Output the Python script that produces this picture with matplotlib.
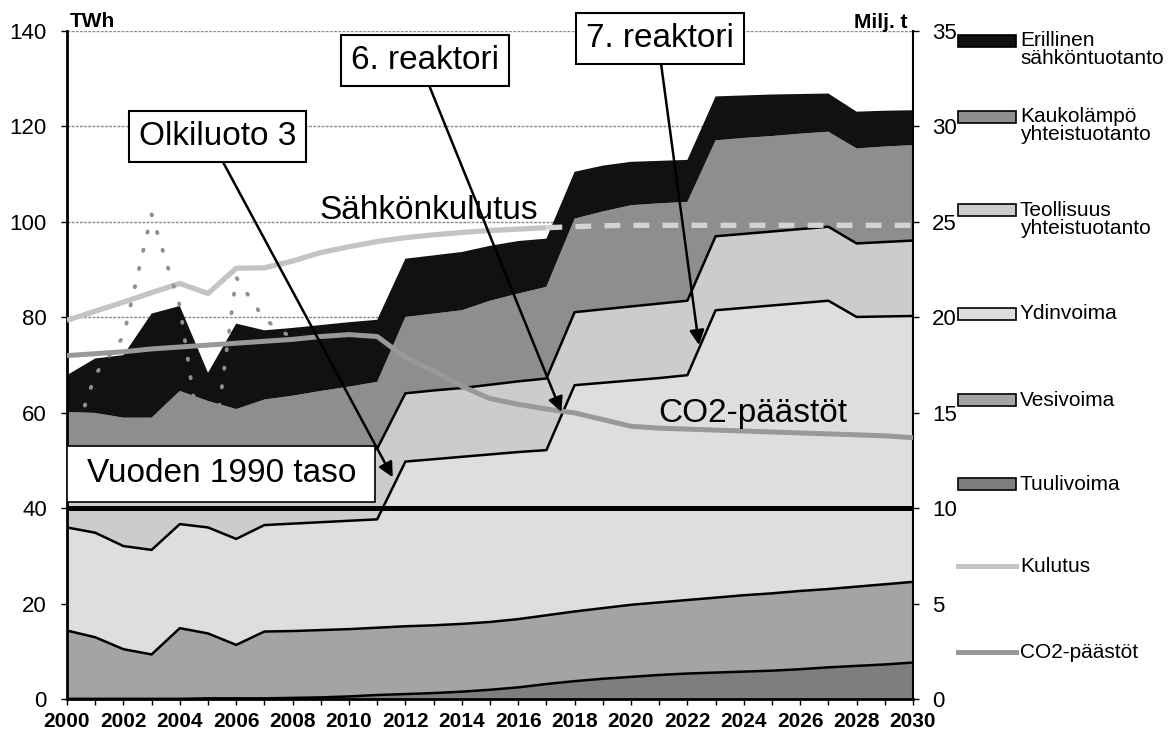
import numpy as np
import matplotlib
matplotlib.use('Agg')
import matplotlib.pyplot as plt
from matplotlib.patches import Rectangle
from matplotlib.lines import Line2D

plt.rcParams['font.family'] = ['Liberation Sans', 'DejaVu Sans']

years = list(range(2000, 2031))

# Electricity production by source, TWh (stacked bottom to top)
tuulivoima = [0.1, 0.1, 0.1, 0.1, 0.1, 0.2, 0.2, 0.2, 0.3, 0.4, 0.6, 0.9, 1.1, 1.3, 1.6, 2.0,
              2.5, 3.2, 3.8, 4.3, 4.7, 5.1, 5.4, 5.6, 5.8, 6.0, 6.3, 6.7, 7.0, 7.3, 7.7]
vesivoima = [14.3, 12.9, 10.4, 9.3, 14.8, 13.6, 11.2, 14.0, 14.0, 14.1, 14.1, 14.1, 14.2, 14.2, 14.2, 14.2,
             14.3, 14.4, 14.6, 14.8, 15.1, 15.2, 15.4, 15.7, 16.0, 16.2, 16.4, 16.4, 16.6, 16.8, 16.9]
ydinvoima = [21.6, 21.9, 21.6, 21.9, 21.8, 22.2, 22.2, 22.3, 22.5, 22.6, 22.7, 22.7, 34.5, 34.8, 35.0, 35.1,
             35.0, 34.6, 47.4, 47.2, 47.0, 47.0, 47.1, 60.2, 60.2, 60.3, 60.3, 60.4, 56.5, 56.1, 55.7]
teollisuus = [13.0, 12.5, 12.8, 13.0, 13.5, 11.5, 13.5, 13.5, 13.8, 14.0, 14.2, 14.8, 14.3, 14.4, 14.4, 14.6,
              14.8, 15.0, 15.3, 15.4, 15.5, 15.6, 15.6, 15.5, 15.5, 15.5, 15.5, 15.5, 15.4, 15.6, 15.8]
kaukolampo = [11.2, 12.6, 14.1, 14.7, 14.4, 15.0, 13.7, 12.8, 13.0, 13.5, 13.9, 14.0, 16.0, 16.1, 16.3, 17.6,
              18.4, 19.2, 19.6, 20.5, 21.2, 21.0, 20.7, 20.1, 20.1, 20.0, 20.0, 19.9, 19.9, 20.0, 20.0]
erillinen = [7.7, 11.4, 13.1, 21.8, 17.8, 5.9, 17.9, 14.5, 14.2, 13.8, 13.5, 13.0, 12.2, 12.2, 12.2, 11.5,
             11.0, 10.1, 9.8, 9.6, 9.1, 8.9, 8.8, 9.2, 8.9, 8.7, 8.3, 8.0, 7.7, 7.5, 7.3]

# Consumption, TWh (solid until 2017, dashed after)
kulutus = [79.4, 81.3, 83.2, 85.2, 87.1, 85.0, 90.3, 90.4, 91.8, 93.6, 94.8, 95.9, 96.7, 97.3, 97.8, 98.2,
           98.5, 98.8, 99.0, 99.2, 99.3, 99.3, 99.3, 99.3, 99.3, 99.3, 99.3, 99.3, 99.3, 99.3, 99.3]

# CO2 emissions, Mt (right axis)
co2 = [18.0, 18.1, 18.2, 18.35, 18.45, 18.55, 18.65, 18.75, 18.85, 19.0, 19.1, 19.0, 17.9, 17.2, 16.4, 15.75,
       15.45, 15.2, 15.0, 14.65, 14.3, 14.2, 14.15, 14.1, 14.05, 14.0, 13.95, 13.9, 13.85, 13.8, 13.7]
co2_toteutunut = [12.6, 17.0, 19.0, 25.4, 20.6, 10.8, 22.1, 19.9, 18.9]
taso_1990 = 10.0

series_names = ['Tuulivoima', 'Vesivoima', 'Ydinvoima', 'Teollisuus\nyhteistuotanto',
                'Kaukolämpö\nyhteistuotanto', 'Erillinen\nsähköntuotanto']
series_colors = ['#7e7e7e', '#a4a4a4', '#dedede', '#cccccc', '#8e8e8e', '#111111']

W, H = 1170, 732
fig = plt.figure(figsize=(W / 100, H / 100), dpi=100)
ax = fig.add_axes([67 / W, 1 - 699.3 / H, (913 - 67) / W, (699.3 - 31) / H])

# stacked areas
ax.stackplot(years, tuulivoima, vesivoima, ydinvoima, teollisuus, kaukolampo, erillinen,
             colors=series_colors, linewidth=0, zorder=2)
tops = np.cumsum([tuulivoima, vesivoima, ydinvoima, teollisuus], axis=0)
for top in tops:
    ax.plot(years, top, color='black', lw=1.8, zorder=3)

# consumption line
ax.plot(years[:18], kulutus[:18], color='#c4c4c4', lw=3.8, zorder=4, solid_capstyle='butt')
ax.plot(years[17:], kulutus[17:], color='#d4d4d4', lw=3.8, ls=(0, (3, 2.5)), zorder=4)

ax.set_xlim(2000, 2030)
ax.set_ylim(0, 140)
ax.set_yticks(range(0, 141, 20))
ax.set_xticks(years)
ax.set_xticklabels([str(y) if y % 2 == 0 else '' for y in years],
                   family=['Liberation Sans Narrow', 'Liberation Sans'], fontweight='bold')
ax.set_axisbelow(True)
ax.grid(axis='y', color='#8a8a8a', lw=1, ls=(0, (2, 1)))
ax.tick_params(axis='y', labelsize=16, length=4.5, width=1, pad=10)
ax.tick_params(axis='x', labelsize=15, length=4, width=1, pad=5)
for s in ['top', 'right']:
    ax.spines[s].set_visible(False)
ax.spines['left'].set_linewidth(2)
ax.spines['bottom'].set_linewidth(2)

# right axis: CO2
ax2 = ax.twinx()
ax2.set_ylim(0, 35)
ax2.set_yticks(range(0, 36, 5))
ax2.tick_params(axis='y', labelsize=16, length=4.5, width=1, pad=9)
for s in ['top', 'left', 'bottom']:
    ax2.spines[s].set_visible(False)
ax2.spines['right'].set_linewidth(1.5)

ax2.axhline(taso_1990, color='black', lw=3.6, zorder=3)
ax2.plot(years, co2, color='#999999', lw=3.6, zorder=4, solid_capstyle='butt')
ax2.plot(years[:len(co2_toteutunut)], co2_toteutunut, color='#909090', lw=2.8,
         ls=(0, (0.3, 4.5)), dash_capstyle='round', zorder=4)

box = dict(boxstyle='square,pad=0.3', fc='white', ec='black', lw=1.5)
arrow = dict(arrowstyle='-|>', color='black', lw=1.8, relpos=(0.5, 0), shrinkA=0, shrinkB=0,
             mutation_scale=22)
ax2.annotate('Olkiluoto 3', xy=(2011.55, 46.5), xycoords=ax.transData,
             xytext=(2005.34, 117.9), textcoords=ax.transData,
             ha='center', va='center', fontsize=24, bbox=box, arrowprops=arrow, zorder=6)
ax2.annotate('6. reaktori', xy=(2017.53, 60.2), xycoords=ax.transData,
             xytext=(2012.7, 133.9), textcoords=ax.transData,
             ha='center', va='center', fontsize=24, bbox=box, arrowprops=arrow, zorder=6)
ax2.annotate('7. reaktori', xy=(2022.41, 74.2), xycoords=ax.transData,
             xytext=(2021.02, 138.4), textcoords=ax.transData, annotation_clip=False,
             ha='center', va='center', fontsize=24, bbox=box, arrowprops=arrow, zorder=6)

# box for the 1990 level label
ax2.add_patch(Rectangle((2000.0, 41.3), 10.91, 11.7, transform=ax.transData,
                        fc='white', ec='black', lw=1.2, zorder=6))
ax2.text(2005.49, 47.2, 'Vuoden 1990 taso', transform=ax.transData, ha='center', va='center',
         fontsize=24, zorder=7)
ax2.text(2008.96, 100.7, 'Sähkönkulutus', transform=ax.transData, fontsize=24, va='baseline', zorder=6)
ax2.text(2020.96, 58.1, 'CO2-päästöt', transform=ax.transData, fontsize=24, va='baseline', zorder=6)

fig.text(70 / W, 1 - 27 / H, 'TWh', fontsize=15, fontweight='bold', va='baseline')
fig.text(907 / W, 1 - 28 / H, 'Milj. t', fontsize=15, fontweight='bold', va='baseline', ha='right')

# legend (top to bottom)
legend_y = [41, 117, 210, 314, 400, 484]
for name, color, y in zip(series_names[::-1], series_colors[::-1], legend_y):
    fig.add_artist(Rectangle((958 / W, 1 - (y + 6) / H), 58 / W, 12 / H, transform=fig.transFigure,
                             fc=color, ec='black', lw=1.2))
    for j, line in enumerate(name.split('\n')):
        fig.text(1020 / W, 1 - (y + 18 * j) / H, line, fontsize=15, va='center')
for name, color, y in [('Kulutus', '#c4c4c4', 566), ('CO2-päästöt', '#999999', 652)]:
    fig.add_artist(Line2D([958 / W, 1016 / W], [1 - y / H, 1 - y / H], transform=fig.transFigure,
                          color=color, lw=3.6))
    fig.text(1020 / W, 1 - y / H, name, fontsize=15, va='center')

fig.savefig('out.png', dpi=100)
